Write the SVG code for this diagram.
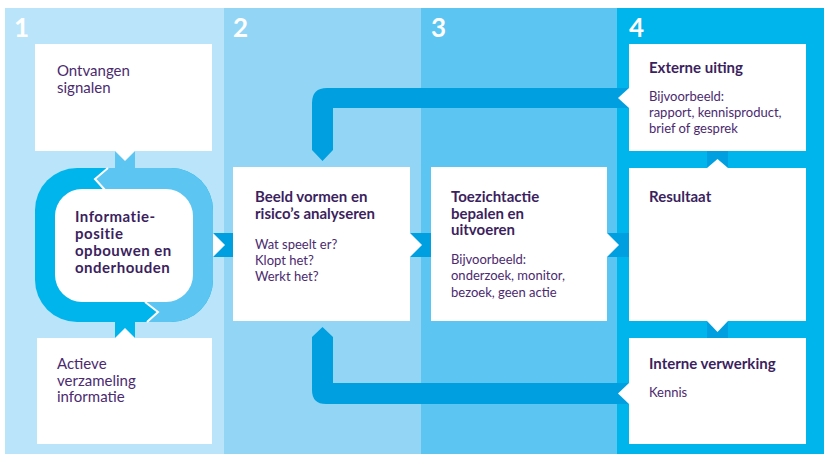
<svg xmlns="http://www.w3.org/2000/svg" width="824" height="454" viewBox="0 0 824 454">
<style>
.num{font-family:Lato,"Noto Sans",sans-serif;font-size:26px;font-weight:bold;fill:#ffffff}
.big{font-family:Lato,"Noto Sans",sans-serif;font-size:15px;fill:#4b2a6f}
.ttl{font-family:Lato,"Noto Sans",sans-serif;font-size:15px;font-weight:bold;fill:#3c1f5e}
.ttl2{font-family:Lato,"Noto Sans",sans-serif;font-size:15px;font-weight:bold;letter-spacing:0.5px;fill:#3c1f5e}
.txt{font-family:Lato,"Noto Sans",sans-serif;font-size:13px;fill:#4b2a6f}
.box{fill:#ffffff}
.band{fill:#009fe0}
.notch{fill:#ffffff}
</style>
<defs>
<clipPath id="lightHalf">
<polygon points="108,150 108,168 95,179 105,190 105,200 146,300 146,302 158,312 148,322 148,340 240,340 240,150"/>
</clipPath>
</defs>
<g id="background">
<rect x="5" y="8" width="219" height="446" fill="#bae4f9"/>
<rect x="224" y="8" width="197" height="446" fill="#93d5f5"/>
<rect x="421" y="8" width="197" height="446" fill="#5cc5f1"/>
<rect x="617" y="8" width="207" height="446" fill="#00b5ec"/>
<text class="num" x="14" y="37">1</text>
<text class="num" x="233" y="37">2</text>
<text class="num" x="431" y="37">3</text>
<text class="num" x="629" y="37">4</text>
</g>
<g id="connectors">
<rect x="115" y="151" width="20" height="20" fill="#5cc5f1"/>
<polygon class="notch" points="115,151 135,151 125,161"/>
<rect x="115" y="320" width="20" height="18" fill="#00b5ec"/>
<polygon class="notch" points="115,338 135,338 125,328"/>
<rect class="band" x="213" y="233" width="20" height="24"/>
<polygon class="notch" points="213,233 213,257 225,245"/>
<rect class="band" x="410" y="233" width="21" height="24"/>
<polygon class="notch" points="410,233 410,257 422,245"/>
<rect class="band" x="607" y="233" width="22" height="24"/>
<polygon class="notch" points="607,233 607,257 619,245"/>
<rect class="band" x="707" y="151" width="21" height="17"/>
<polygon class="notch" points="707,168 728,168 717.5,159"/>
<rect class="band" x="707" y="321" width="21" height="17"/>
<polygon class="notch" points="707,321 728,321 717.5,332"/>
<path class="band" d="M629,88 L327,88 Q312,88 312,103 L312,150 L322.5,161 L333,150 L333,108 L629,108 Z"/>
<polygon class="notch" points="629,88 629,108 618,98"/>
<path class="band" d="M629,383 L333,383 L333,337 L322.5,327 L312,337 L312,390 Q312,404 326,404 L629,404 Z"/>
<polygon class="notch" points="629,383 629,404 618,393.5"/>
</g>
<g id="node-ontvangen">
<rect class="box" x="35" y="44" width="177" height="107"/>
<text class="big" x="57" y="76">Ontvangen</text>
<text class="big" x="57" y="92.5">signalen</text>
</g>
<g id="node-informatiepositie">
<rect x="35" y="168" width="178" height="154" rx="42" fill="#00b5ec"/>
<rect x="35" y="168" width="178" height="154" rx="42" fill="#5cc5f1" clip-path="url(#lightHalf)"/>
<polyline points="108,168 95,179 105,190" fill="none" stroke="#ffffff" stroke-width="2"/>
<polyline points="145,302 158,312 147,322" fill="none" stroke="#ffffff" stroke-width="2"/>
<rect class="box" x="55" y="189" width="138" height="113" rx="27"/>
<text class="ttl2" x="75" y="222">Informatie-</text>
<text class="ttl2" x="75" y="239">positie</text>
<text class="ttl2" x="75" y="256">opbouwen en</text>
<text class="ttl2" x="75" y="273">onderhouden</text>
</g>
<g id="node-actieve">
<rect class="box" x="37" y="338" width="175" height="106"/>
<text class="big" x="57" y="369">Actieve</text>
<text class="big" x="57" y="385.5">verzameling</text>
<text class="big" x="57" y="402">informatie</text>
</g>
<g id="node-beeld">
<rect class="box" x="233" y="167" width="177" height="154"/>
<text class="ttl" x="255" y="202">Beeld vormen en</text>
<text class="ttl" x="255" y="219">risico’s analyseren</text>
<text class="txt" x="255" y="249">Wat speelt er?</text>
<text class="txt" x="255" y="265">Klopt het?</text>
<text class="txt" x="255" y="281">Werkt het?</text>
</g>
<g id="node-toezicht">
<rect class="box" x="431" y="167" width="176" height="154"/>
<text class="ttl" x="451" y="202">Toezichtactie</text>
<text class="ttl" x="451" y="218.5">bepalen en</text>
<text class="ttl" x="451" y="235">uitvoeren</text>
<text class="txt" x="451" y="264">Bijvoorbeeld:</text>
<text class="txt" x="451" y="280">onderzoek, monitor,</text>
<text class="txt" x="451" y="296.5">bezoek, geen actie</text>
</g>
<g id="node-extern">
<rect class="box" x="629" y="44" width="177" height="107"/>
<text class="ttl" x="649" y="72.5">Externe uiting</text>
<text class="txt" x="649" y="100.5">Bijvoorbeeld:</text>
<text class="txt" x="649" y="116.5">rapport, kennisproduct,</text>
<text class="txt" x="649" y="133">brief of gesprek</text>
</g>
<g id="node-resultaat">
<rect class="box" x="629" y="168" width="177" height="153"/>
<text class="ttl" x="649" y="201.5">Resultaat</text>
</g>
<g id="node-intern">
<rect class="box" x="629" y="338" width="177" height="106"/>
<text class="ttl" x="649" y="369">Interne verwerking</text>
<text class="txt" x="649" y="397">Kennis</text>
</g>
</svg>
